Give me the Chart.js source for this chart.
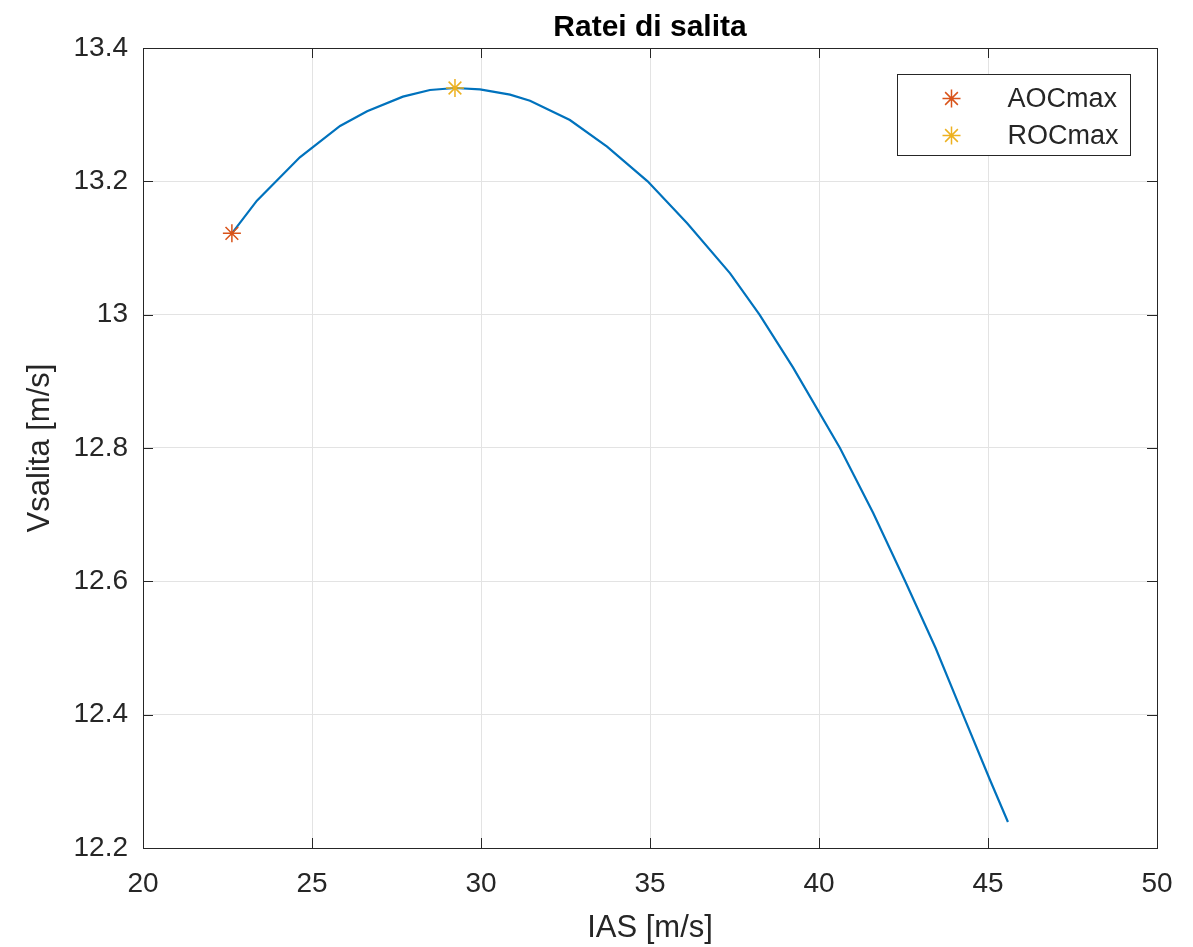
<!DOCTYPE html>
<html>
<head>
<meta charset="utf-8">
<title>Ratei di salita</title>
<script src="https://cdn.jsdelivr.net/npm/chart.js@4"></script>
<style>
  html, body { margin: 0; padding: 0; background: #fff; }
  #wrap { width: 1193px; height: 947px; }
</style>
</head>
<body>
<div id="wrap"><canvas id="climbChart" width="1193" height="947"></canvas></div>
<script>
// IAS [m/s] along the climb curve
const iasValues = [22.63, 23.37, 24.64, 25.83, 26.63, 27.69, 28.49, 29.23, 29.97, 30.86, 31.45,
    32.63, 33.73, 34.93, 36.1, 37.37, 38.24, 39.23, 40.62, 41.6, 42.55, 43.45,
    44.26, 45.06, 45.59];
// Vsalita [m/s]
const climbValues = [13.122, 13.171, 13.236, 13.283, 13.305, 13.327, 13.337, 13.34, 13.338, 13.33, 13.321,
    13.292, 13.252, 13.2, 13.137, 13.062, 13.0, 12.921, 12.8, 12.703, 12.6, 12.5,
    12.4, 12.302, 12.239];

// special points
const aocPoint = [22.63, 13.122];
const rocPoint = [29.23, 13.34];
const markerLabels = ['AOCmax', 'ROCmax'];

// tick labels
const xTicks = [20, 25, 30, 35, 40, 45, 50];
const yTicks = [12.2, 12.4, 12.6, 12.8, 13, 13.2, 13.4];

const fontFamily = '"Liberation Sans", Arial, Helvetica, sans-serif';
const textColor = '#262626';
const gridColor = '#e3e3e3';
const lineBlue = '#0072BD';
const aocColor = '#D95319';
const rocColor = '#EDB120';
const tickLen = 10;

// draws the Matlab style box, inward ticks, title and legend
const matlabAxes = {
    id: 'matlabAxes',
    afterDatasetsDraw(chart) {
        const { ctx, chartArea: a, scales: { x, y } } = chart;
        ctx.save();
        ctx.strokeStyle = textColor;
        ctx.lineWidth = 1;
        ctx.beginPath();
        xTicks.forEach(v => {
            const px = Math.round(x.getPixelForValue(v)) + 0.5;
            ctx.moveTo(px, a.bottom); ctx.lineTo(px, a.bottom - tickLen);
            ctx.moveTo(px, a.top); ctx.lineTo(px, a.top + tickLen);
        });
        yTicks.forEach(v => {
            const py = Math.round(y.getPixelForValue(v)) + 0.5;
            ctx.moveTo(a.left, py); ctx.lineTo(a.left + tickLen, py);
            ctx.moveTo(a.right, py); ctx.lineTo(a.right - tickLen, py);
        });
        ctx.stroke();
        ctx.strokeRect(Math.round(a.left) + 0.5, Math.round(a.top) + 0.5,
            Math.round(a.right - a.left), Math.round(a.bottom - a.top));

        // title
        ctx.fillStyle = '#000';
        ctx.font = 'bold 30px ' + fontFamily;
        ctx.textAlign = 'center';
        ctx.textBaseline = 'alphabetic';
        ctx.fillText('Ratei di salita', (a.left + a.right) / 2, 36);

        // legend
        const boxW = 233, boxH = 81;
        const bx = Math.round(a.right - 27 - boxW) + 0.5;
        const by = Math.round(a.top + 26) + 0.5;
        ctx.fillStyle = '#fff';
        ctx.fillRect(bx, by, boxW, boxH);
        ctx.strokeStyle = textColor;
        ctx.strokeRect(bx, by, boxW, boxH);
        ctx.font = '27px ' + fontFamily;
        ctx.textAlign = 'left';
        ctx.textBaseline = 'middle';
        const colors = [aocColor, rocColor];
        markerLabels.forEach((lab, i) => {
            const cy = by + 24 + i * 37;
            ctx.strokeStyle = colors[i];
            ctx.lineWidth = 1.5;
            Chart.helpers.drawPoint(ctx, { pointStyle: 'star', radius: 9, rotation: 0, borderWidth: 1.5 }, bx + 54, cy);
            ctx.fillStyle = textColor;
            ctx.fillText(lab, bx + 110, cy + 1);
        });
        ctx.restore();
    }
};

const curveData = iasValues.map((v, i) => ({ x: v, y: climbValues[i] }));

const config = {
    type: 'scatter',
    data: {
        datasets: [
            { // AOCmax marker
                label: markerLabels[0],
                data: [{ x: aocPoint[0], y: aocPoint[1] }],
                pointStyle: 'star',
                pointRadius: 9,
                borderColor: aocColor,
                borderWidth: 1.5,
                order: 0
            },
            { // ROCmax marker
                label: markerLabels[1],
                data: [{ x: rocPoint[0], y: rocPoint[1] }],
                pointStyle: 'star',
                pointRadius: 9,
                borderColor: rocColor,
                borderWidth: 1.5,
                order: 1
            },
            { // climb curve
                label: 'Vsalita',
                data: curveData,
                showLine: true,
                borderColor: lineBlue,
                borderWidth: 2.2,
                pointRadius: 0,
                tension: 0,
                order: 2
            }
        ]
    },
    options: {
        responsive: false,
        animation: false,
        layout: { padding: { top: 48, right: 36, left: 0, bottom: 0 } },
        plugins: {
            legend: { display: false },
            tooltip: { enabled: false },
            title: { display: false }
        },
        scales: {
            x: {
                type: 'linear',
                min: 20,
                max: 50,
                afterBuildTicks: s => { s.ticks = xTicks.map(v => ({ value: v })); },
                afterFit: s => { s.height = 99; },
                ticks: {
                    color: textColor,
                    font: { family: fontFamily, size: 28 },
                    padding: 19,
                    maxRotation: 0
                },
                grid: { color: gridColor, drawTicks: false },
                border: { display: false },
                title: {
                    display: true,
                    text: 'IAS [m/s]',
                    color: textColor,
                    font: { family: fontFamily, size: 31 },
                    padding: { top: 0, bottom: 0 }
                }
            },
            y: {
                type: 'linear',
                min: 12.2,
                max: 13.4,
                afterBuildTicks: s => { s.ticks = yTicks.map(v => ({ value: v })); },
                afterFit: s => { s.width = 143; },
                ticks: {
                    color: textColor,
                    font: { family: fontFamily, size: 28 },
                    padding: 15,
                    callback: v => String(Number(v.toFixed(1)))
                },
                grid: { color: gridColor, drawTicks: false },
                border: { display: false },
                title: {
                    display: true,
                    text: 'Vsalita [m/s]',
                    color: textColor,
                    font: { family: fontFamily, size: 31 },
                    padding: { top: 22, bottom: 0 }
                }
            }
        }
    },
    plugins: [matlabAxes]
};

const climbChart = new Chart(document.getElementById('climbChart'), config);
</script>
</body>
</html>
